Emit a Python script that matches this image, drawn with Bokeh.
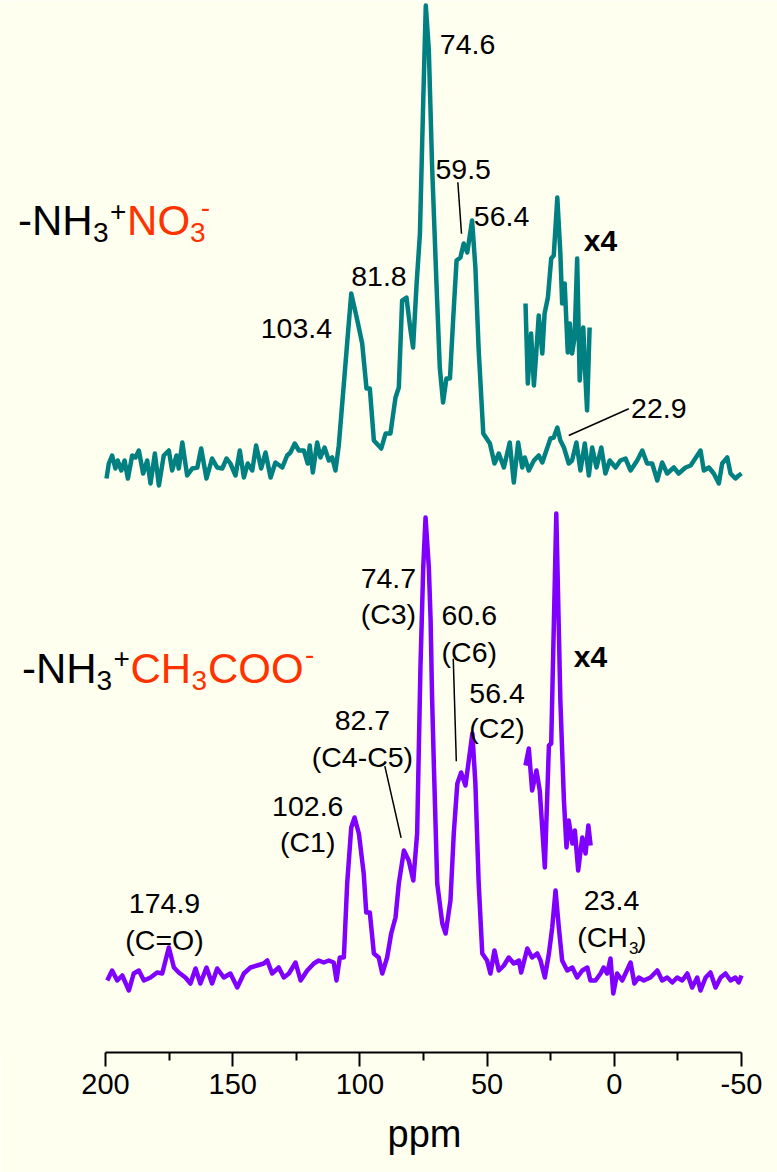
from bokeh.plotting import figure
from bokeh.models import Range1d, LinearAxis, FixedTicker, Label, Title
from bokeh.embed import file_html
from bokeh.resources import INLINE

# ---------------- data (ppm, relative intensity) ----------------
top_ppm = [199.6, 198.7, 197.4, 196.1, 195.2, 193.8, 192.5, 191.2, 189.5, 188.2,
           186.9, 185.2, 183.6, 182.3, 180.6, 179.0, 177.1, 175.1, 173.8, 172.1,
           171.2, 169.8, 167.9, 165.9, 163.9, 162.4, 160.3, 158.1, 156.1, 154.1,
           152.4, 150.9, 148.9, 147.2, 145.6, 144.1, 142.3, 140.8, 138.8, 137.1,
           135.1, 133.2, 130.5, 128.6, 127.3, 125.6, 124.0, 122.0, 120.5, 119.7,
           118.5, 116.8, 115.5, 113.9, 112.2, 110.9, 109.6, 108.3, 106.3, 104.6,
           103.4, 101.0, 99.1, 97.4, 96.1, 94.5, 91.6, 89.9, 88.0, 86.0,
           84.7, 83.4, 81.7, 80.1, 79.1, 77.7, 76.4, 75.1, 74.1, 72.9,
           71.6, 69.9, 68.6, 67.3, 66.0, 64.6, 63.3, 62.0, 60.5, 59.2,
           57.8, 55.9, 54.6, 53.3, 51.5, 48.9, 47.1, 45.4, 43.4, 41.1,
           39.5, 37.8, 36.2, 35.2, 33.6, 31.6, 29.7, 28.3, 25.1, 23.8,
           22.4, 21.2, 19.8, 17.9, 16.6, 14.9, 13.3, 11.6, 10.0, 8.7,
           7.0, 5.1, 3.5, 1.8, -0.5, -2.4, -4.4, -6.4, -9.0, -11.0,
           -12.9, -14.9, -16.9, -18.8, -20.8, -23.4, -25.3, -28.0, -30.0, -33.9,
           -35.2, -37.2, -39.1, -41.1, -42.4, -44.4, -45.7, -47.6, -48.9, -50.0]
top_int = [-13, 2, 10, -3, 5, -5, 5, -13, 10, 8,
           15, -8, 5, -18, 12, -20, 10, 15, -5, 10,
           -3, 23, -10, -3, -2, 17, -13, 7, -2, -3,
           7, 2, -10, 15, -12, 2, -5, 20, -3, 13,
           -12, 3, -2, 10, 13, 22, 15, 15, 2, 20,
           -7, 23, 8, 18, 5, 8, -5, 20, 82, 135,
           172, 145, 122, 77, 77, 25, 17, 32, 32, 68,
           78, 165, 168, 135, 118, 182, 232, 365, 460, 415,
           298, 182, 98, 63, 87, 87, 148, 205, 208, 222,
           213, 245, 198, 115, 32, 22, 2, 12, -2, 23,
           -17, 23, -2, 8, -5, 5, 10, 3, 27, 28,
           38, 25, 18, 2, 5, 23, -5, 22, -10, 18,
           -2, 18, -8, 5, -2, 5, 7, -5, 5, 15,
           2, 2, -15, 3, -8, -2, -8, -2, 0, 15,
           -5, -2, -8, -18, 2, 8, -8, -13, -10, -8]

top_x4_ppm = [34.9, 34.0, 32.7, 31.6, 30.7, 29.7, 28.3, 27.4, 26.1, 24.8,
              23.8, 22.4, 21.2, 20.5, 19.5, 18.3, 17.5, 16.6, 15.6, 14.6,
              13.6, 12.2, 11.3, 10.7, 9.7]
top_x4_int = [46, -34, 16, -36, -4, 34, -4, 36, 52, 91,
              94, 152, 96, 46, 66, -3, 26, -4, 12, 91,
              -31, 22, -31, -61, 22]

bot_ppm = [199.3, 197.4, 195.4, 193.4, 190.8, 188.9, 186.9, 184.9, 182.3, 179.7,
           177.7, 175.1, 173.1, 171.2, 168.6, 166.6, 164.6, 162.7, 160.3, 158.1,
           156.1, 153.5, 150.9, 148.2, 145.6, 143.0, 140.4, 137.8, 136.4, 134.5,
           131.9, 129.9, 127.9, 125.3, 123.3, 120.7, 118.1, 116.2, 114.2, 112.2,
           110.3, 109.2, 107.9, 106.3, 105.0, 103.4, 102.1, 100.4, 98.5, 97.5,
           96.1, 94.5, 92.6, 91.2, 89.3, 87.7, 86.0, 84.7, 82.7, 80.8,
           79.0, 77.5, 76.2, 75.1, 74.2, 72.9, 72.2, 71.6, 70.9, 69.6,
           67.6, 66.3, 64.4, 63.1, 61.7, 60.2, 58.5, 57.2, 55.8, 54.6,
           53.3, 51.9, 50.0, 48.7, 47.1, 45.4, 43.4, 41.5, 39.5, 37.5,
           36.6, 34.2, 32.3, 30.3, 29.0, 27.3, 25.7, 24.4, 23.1, 21.8,
           20.5, 18.5, 16.5, 14.6, 12.6, 10.6, 9.4, 7.4, 5.4, 4.2,
           2.8, 1.5, 0.4, -1.1, -3.1, -4.4, -6.4, -7.9, -9.6, -11.6,
           -14.2, -16.9, -18.8, -20.8, -22.8, -24.7, -26.7, -28.7, -30.6, -32.6,
           -33.9, -35.9, -37.8, -39.8, -41.8, -43.7, -45.7, -47.6, -48.9, -50.0]
bot_int = [-5, 5, -5, 0, -15, 2, 5, -5, -2, 3,
           2, 28, 8, 3, -2, -8, 7, -8, 8, -8,
           7, -2, 2, -12, 2, 8, 10, 12, 15, 2,
           8, -2, 2, 13, -5, 5, 12, 15, 13, 15,
           13, -5, 18, 18, 92, 148, 158, 142, 102, 63,
           63, 22, 18, 2, 18, 42, 58, 92, 125, 115,
           95, 142, 308, 408, 458, 408, 355, 275, 208, 92,
           52, 42, 75, 142, 192, 203, 190, 215, 242, 192,
           92, 22, 15, 2, 25, 5, 10, 18, 12, 15,
           3, 27, 18, 22, 15, -2, 22, 48, 85, 48,
           15, 5, 8, -2, 5, 8, -5, -5, 2, 8,
           2, 17, -18, 2, -5, 2, 13, -8, -2, -5,
           -2, 5, -5, -2, -7, -2, -5, 2, -12, -2,
           -15, -2, 3, -12, -2, 2, -5, -2, -7, 0]

bot_x4_ppm = [34.9, 33.6, 32.3, 30.6, 29.3, 27.3, 25.7, 24.8, 22.8, 21.2,
              19.8, 18.8, 17.9, 16.5, 15.5, 14.2, 12.6, 11.3, 10.2, 9.3]
bot_x4_int = [88, 105, 63, 83, 63, -14, 108, 110, 340, 153,
              53, 6, 33, 10, 23, -17, 16, 0, 28, 8]

tick_values = [200, 150, 100, 50, 0, -50]
minor_tick_values = [175, 125, 75, 25, -25]

top_labels = ["74.6", "59.5", "56.4", "81.8", "103.4", "22.9"]
bot_labels = [("74.7", "(C3)"), ("60.6", "(C6)"), ("56.4", "(C2)"),
              ("82.7", "(C4-C5)"), ("102.6", "(C1)"), ("174.9", "(C=O)")]

# ---------------- styling ----------------
BG = "#FFFFF0"
TEAL = "#008080"
PURPLE = "#8000FF"
RED = "#FF3300"
FONT = "Liberation Sans"
FS = "28.5px"

OFF_TOP, OFF_TOP_X4, OFF_BOT, OFF_BOT_X4 = 587, 703, 77, 199

p = figure(width=777, height=1172, output_backend="svg", toolbar_location=None,
           x_range=Range1d(241.27, -64.15), y_range=Range1d(0, 1052),
           x_axis_type=None, y_axis_type=None,
           min_border_left=0, min_border_right=0, min_border_top=0,
           min_border_bottom=120,
           background_fill_color=BG, border_fill_color=BG,
           outline_line_color=None)

axis = LinearAxis(ticker=FixedTicker(ticks=tick_values, minor_ticks=minor_tick_values),
                  bounds=(-50, 200),
                  axis_line_width=2, axis_line_color="black",
                  major_tick_out=14, major_tick_in=0, major_tick_line_width=2,
                  minor_tick_out=8, minor_tick_in=0, minor_tick_line_width=2,
                  major_label_text_font=FONT, major_label_text_font_size="29px",
                  major_label_text_color="black", major_label_standoff=7,
                  major_label_overrides={-50: "-50"})
p.add_layout(axis, "below")

# axis title, centred under the axis span (not the whole frame)
p.add_layout(Title(text="ppm", align="left", offset=387, standoff=29,
                   text_font=FONT, text_font_size="38px", text_font_style="normal",
                   text_color="black"), "below")

def shifted(vals, off):
    return [v + off for v in vals]

lw = 4.5
p.line(top_ppm, shifted(top_int, OFF_TOP), line_color=TEAL, line_width=lw, line_join="round")
p.line(top_x4_ppm, shifted(top_x4_int, OFF_TOP_X4), line_color=TEAL, line_width=lw, line_join="round")
p.line(bot_ppm, shifted(bot_int, OFF_BOT), line_color=PURPLE, line_width=lw, line_join="round")
p.line(bot_x4_ppm, shifted(bot_x4_int, OFF_BOT_X4), line_color=PURPLE, line_width=lw, line_join="round")

def lab(x, y, s, size=FS, color="black", align="left", style="normal"):
    p.add_layout(Label(x=x, y=y, text=s, text_font=FONT, text_font_size=size,
                       text_color=color, text_align=align, text_baseline="alphabetic",
                       text_font_style=style))

# top annotations
top_pos = [(68.6, 1008), (70.3, 882.7), (55.2, 836), (103.4, 776), (139.0, 723.7), (-6.6, 643.7)]
for s, (x, y) in zip(top_labels, top_pos):
    lab(x, y, s)
lab(12.0, 812, "x4", size="30px", style="bold")
p.segment(x0=[61.5, -5.7], y0=[870.3, 643.7], x1=[60.06, 17.9], y1=[818.7, 617],
          line_color="black", line_width=1.5)

# bottom annotations (centered, two lines)
bot_pos = [(88.8, 473.7, 439), (57.0, 437, 401), (46.1, 359.3, 324.3),
           (99.0, 332, 296), (120.5, 246, 211), (176.8, 148.7, 112.6)]
for (s1, s2), (x, y1, y2) in zip(bot_labels, bot_pos):
    lab(x, y1, s1, align="center")
    lab(x, y2, s2, align="center")
lab(1.1, 152, "23.4", align="center")
lab(14.6, 116, "(CH")
lab(-5.8, 105, "3", size="17px")
lab(-8.9, 116, ")")
lab(15.9, 396, "x4", size="30px", style="bold")
p.segment(x0=[63.3, 90.2], y0=[393.7, 286.3], x1=[62.1, 83.8], y1=[291.3, 214.7],
          line_color="black", line_width=1.5)

# formulas
lab(234.4, 832, "-NH", size="42px")
lab(204.9, 820.3, "3", size="28px")
lab(198.2, 841, "+", size="28px")
lab(191.5, 832, "NO", size="42px", color=RED)
lab(166.8, 820.3, "3", size="28px", color=RED)
lab(162.6, 845, "-", size="28px", color=RED)

lab(232.8, 383.7, "-NH", size="42px")
lab(203.5, 372, "3", size="28px")
lab(196.9, 394, "+", size="28px")
lab(190.2, 383.7, "CH", size="42px", color=RED)
lab(166.2, 372, "3", size="28px", color=RED)
lab(159.7, 383.7, "COO", size="42px", color=RED)
lab(121.6, 398, "-", size="28px", color=RED)

open("out.html", "w").write(file_html(p, INLINE))
